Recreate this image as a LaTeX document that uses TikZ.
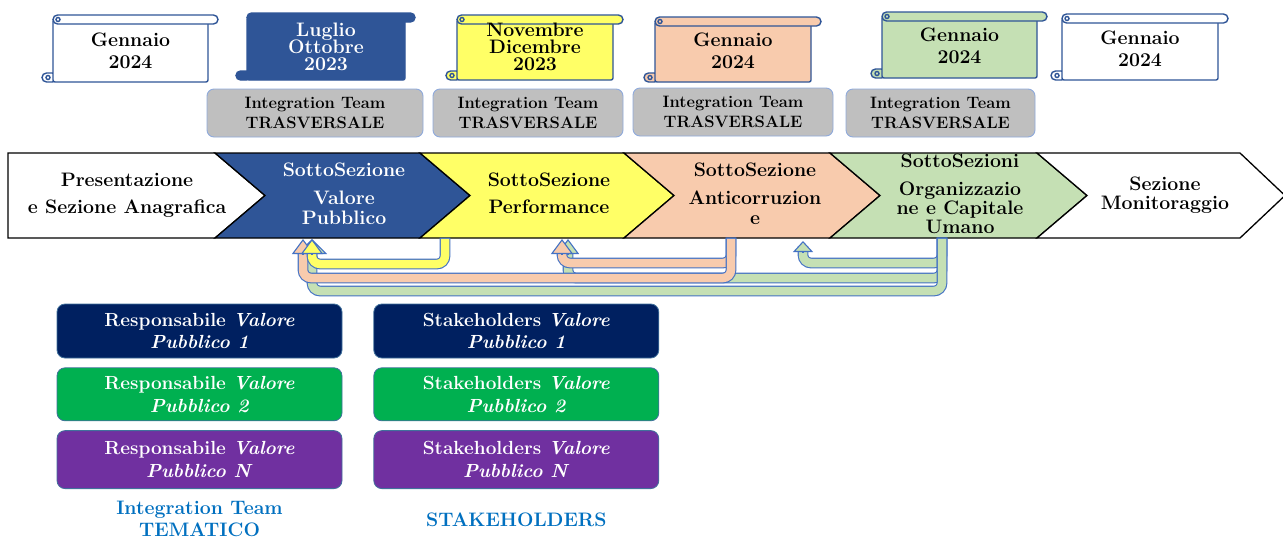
\documentclass[tikz,border=0pt]{standalone}
\usepackage{xcolor}
\definecolor{blue_vp}{RGB}{47,85,151}
\definecolor{yellow_perf}{RGB}{255,255,102}
\definecolor{salmon_anti}{RGB}{248,203,173}
\definecolor{green_org}{RGB}{197,224,180}
\definecolor{grey_team}{RGB}{191,191,191}
\definecolor{edge_team}{RGB}{143,170,220}
\definecolor{edge_scroll}{RGB}{47,85,151}
\definecolor{edge_arrow}{RGB}{68,114,196}
\definecolor{edge_box}{RGB}{65,113,156}
\definecolor{navy_box}{RGB}{0,32,96}
\definecolor{green_box}{RGB}{0,176,80}
\definecolor{purple_box}{RGB}{112,48,160}
\definecolor{blue_label}{RGB}{0,112,192}
\usepackage{tikz}
\usetikzlibrary{calc,arrows.meta,positioning}

% scroll: body top left (#1,#2), bottom right (#3,#4), fill #5
\newcommand{\datescroll}[5]{%
	\draw[scrolline, fill=#5, rounded corners=4.5] (#1-11,#4-9) rectangle (#1+4,#4);
	\draw[scrolline, fill=#5, rounded corners=2] (#1,#2+4.5) rectangle (#3,#4);
	\draw[scrolline, fill=#5, rounded corners=4.5] (#1,#2) rectangle (#3+10,#2+9);
	\draw[scrolline, fill=#5] (#1-5,#4-4.5) circle[radius=2];
	\draw[scrolline, fill=#5] (#1+5,#2+4.5) circle[radius=2];
}

\begin{document}
\begin{tikzpicture}
[	x=1pt, y=-1pt,
	secttxt/.style = {font=\fontsize{19.5}{19.5}\selectfont\bfseries, align=center, inner sep=0pt},
	datetxt/.style = {font=\fontsize{19.5}{21.6}\selectfont\bfseries, align=center, inner sep=0pt},
	teambox/.style = {rectangle, rounded corners=7, draw=edge_team, line width=0.9pt, fill=grey_team, minimum height=48, align=center, inner sep=0pt, font=\fontsize{16.5}{20}\selectfont\bfseries},
	respbox/.style = {rectangle, rounded corners=8, draw=edge_box, line width=0.8pt, minimum width=285, minimum height=53, inner sep=0pt, text=white, align=center, font=\fontsize{19}{22.6}\selectfont\bfseries},
	grouplbl/.style = {text=blue_label, align=center, inner sep=0pt, font=\fontsize{19.5}{21.7}\selectfont\bfseries},
	chevron/.style = {draw=black, line width=1.3pt, line join=miter},
	scrolline/.style = {draw=edge_scroll, line width=1.4pt},
	bentbody/.style = {draw=edge_arrow, line width=1.1pt, double=#1, double distance=8.5pt, line cap=rect, rounded corners=8},
	benthead/.style = {-{Triangle[width=22pt, length=15pt, fill=#1]}, draw=edge_arrow, line width=1.1pt},
	widehead/.style = {-{Triangle[width=30pt, length=15pt, fill=#1]}, draw=edge_arrow, line width=1.1pt},
	smallhead/.style = {-{Triangle[width=20pt, length=11pt, fill=#1]}, draw=edge_arrow, line width=1.1pt}
]
\useasboundingbox (0,0) rectangle (1283,539);
\fill[white] (0,0) rectangle (1283,539);

% date scrolls
\datescroll{53}{15}{208}{82}{white}
\node[datetxt] (date1) at (130.5,50.75) {Gennaio\\2024};
\datescroll{247}{13}{405}{80}{blue_vp}
\node[datetxt, text=white] (date2) at (326,47) {Luglio\\[-4.4pt]Ottobre\\[-4.3pt]2023};
\datescroll{457}{15}{613}{80}{yellow_perf}
\node[datetxt] (date3) at (535,47) {Novembre\\[-4.4pt]Dicembre\\[-4.6pt]2023};
\datescroll{655}{17}{811}{82}{salmon_anti}
\node[datetxt] (date4) at (733,51) {Gennaio\\2024};
\datescroll{882}{12}{1037}{78}{green_org}
\node[datetxt] (date5) at (959.5,46.1) {Gennaio\\2024};
\datescroll{1062}{14}{1218}{80}{white}
\node[datetxt] (date6) at (1140,49.1) {Gennaio\\2024};

% transversal teams
\node[teambox, minimum width=216] (team1) at (315,113) {Integration Team\\TRASVERSALE};
\node[teambox, minimum width=190] (team2) at (528,113) {Integration Team\\TRASVERSALE};
\node[teambox, minimum width=200] (team3) at (733,112) {Integration Team\\TRASVERSALE};
\node[teambox, minimum width=189] (team4) at (940.5,113) {Integration Team\\TRASVERSALE};

% sections bar
\draw[chevron, fill=white] (8,153) -- (215,153) -- (265,195.5) -- (215,238) -- (8,238) -- cycle;
\draw[chevron, fill=blue_vp] (215,153) -- (420,153) -- (470,195.5) -- (420,238) -- (215,238) -- (265,195.5) -- cycle;
\draw[chevron, fill=yellow_perf] (420,153) -- (624,153) -- (674,195.5) -- (624,238) -- (420,238) -- (470,195.5) -- cycle;
\draw[chevron, fill=salmon_anti] (624,153) -- (830,153) -- (880,195.5) -- (830,238) -- (624,238) -- (674,195.5) -- cycle;
\draw[chevron, fill=green_org] (830,153) -- (1037,153) -- (1087,195.5) -- (1037,238) -- (830,238) -- (880,195.5) -- cycle;
\draw[chevron, fill=white] (1037,153) -- (1240,153) -- (1285,195.5) -- (1240,238) -- (1037,238) -- (1087,195.5) -- cycle;

\node[secttxt] (pres) at (127,195.2) {Presentazione\\[7pt]e Sezione Anagrafica};
\node[secttxt, text=white] (valpub) at (344,193.6) {SottoSezione\\[9pt]Valore\\Pubblico};
\node[secttxt] (perf) at (549,193.3) {SottoSezione\\[7pt]Performance};
\node[secttxt] (anticor) at (755,193.6) {SottoSezione\\[9pt]Anticorruzion\\e};
\node[secttxt] (orgcap) at (960,193.8) {SottoSezioni\\[8pt]Organizzazio\\ne e Capitale\\[-1pt]Umano};
\node[secttxt] (monit) at (1165,195.2) {Sezione\\[-1pt]Monitoraggio};

% feedback arrows
\coordinate (perfout) at (445,243);
\coordinate (antiout) at (731,243);
\coordinate (orgout) at (942,243);
\coordinate (vpin1) at (312,254);
\coordinate (vpin2) at (303,254);
\coordinate (vpin3) at (312,254);
\coordinate (perfin1) at (562,254);
\coordinate (perfin2) at (568,254);
\coordinate (antiin) at (803,252);

\draw[bentbody=green_org] (orgout) -- ++(0,20) -| (antiin);
\draw[smallhead=green_org] (antiin) -- ++(0,-11);
\draw[bentbody=green_org] (orgout) -- ++(0,35) -| (perfin2);
\draw[benthead=green_org] (perfin2) -- ++(0,-15);
\draw[bentbody=green_org] (orgout) -- ++(0,48) -| (vpin3);
\draw[widehead=green_org] (vpin3) -- ++(0,-15);

\draw[bentbody=salmon_anti] (antiout) -- ++(0,20) -| (perfin1);
\draw[benthead=salmon_anti] (perfin1) -- ++(0,-15);
\draw[bentbody=salmon_anti] (antiout) -- ++(0,35) -| (vpin2);
\draw[benthead=salmon_anti] (vpin2) -- ++(0,-15);

\draw[bentbody=yellow_perf] (perfout) -- ++(0,21) -| (vpin1);
\draw[benthead=yellow_perf] (vpin1) -- ++(0,-15);

% thematic teams and stakeholders
\node[respbox, fill=navy_box, minimum height=54] (resp1) at (199.5,331) {Responsabile \textit{Valore}\\\textit{Pubblico 1}};
\node[respbox, fill=green_box, below=9pt of resp1] (resp2) {Responsabile \textit{Valore}\\\textit{Pubblico 2}};
\node[respbox, fill=purple_box, minimum height=58, below=9pt of resp2] (resp3) {Responsabile \textit{Valore}\\\textit{Pubblico N}};

\node[respbox, fill=navy_box, minimum height=54, right=31pt of resp1] (stake1) {Stakeholders \textit{Valore}\\\textit{Pubblico 1}};
\node[respbox, fill=green_box, below=9pt of stake1] (stake2) {Stakeholders \textit{Valore}\\\textit{Pubblico 2}};
\node[respbox, fill=purple_box, minimum height=58, below=9pt of stake2] (stake3) {Stakeholders \textit{Valore}\\\textit{Pubblico N}};

\node[grouplbl, below=12pt of resp3] (lbltem) {Integration Team\\TEMATICO};
\node[grouplbl, below=24pt of stake3] (lblstake) {STAKEHOLDERS};

\end{tikzpicture}
\end{document}
